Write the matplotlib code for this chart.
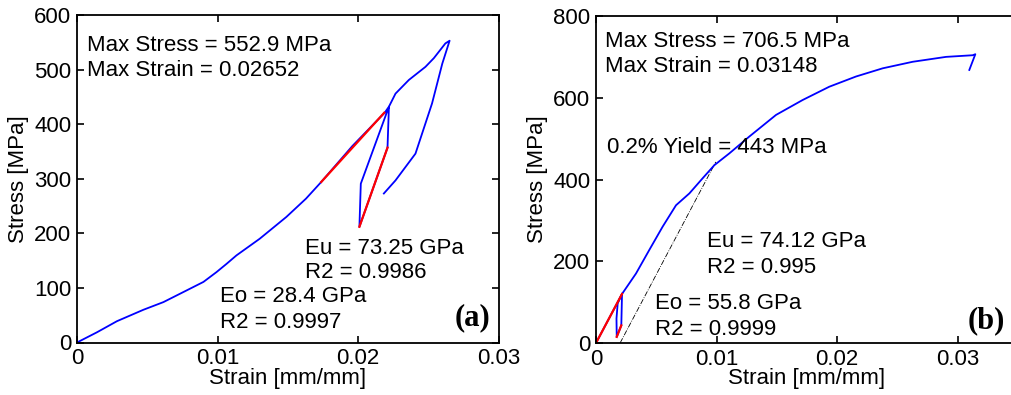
import matplotlib
matplotlib.use("Agg")
import matplotlib.pyplot as plt

plt.rcParams['font.family'] = ['Liberation Sans', 'DejaVu Sans']

# (a) stress-strain with one unload/reload cycle
a_strain = [0, 0.00142, 0.00284, 0.00473, 0.00615, 0.0078, 0.009, 0.00993,
            0.01064, 0.01135, 0.013, 0.0149, 0.0163, 0.01738, 0.0196, 0.0219, 0.0222,
            0.0202, 0.0201, 0.0221, 0.0222,
            0.02267, 0.02362, 0.0248, 0.0254, 0.02622, 0.02652,
            0.026, 0.02527, 0.02409, 0.02267, 0.02184]
a_stress = [0, 18.7, 39, 60, 74, 95.4, 111, 129,
            144, 159.6, 190, 230, 263.6, 294, 360, 421, 432,
            291, 212, 357, 432,
            456, 481, 505, 521, 548, 552.9,
            511, 438, 346, 297, 273]
a_eo_x = [0.01738, 0.02187]
a_eo_y = [294, 421]
a_eu_x = [0.0201, 0.0221]
a_eu_y = [212, 357]

# (b) stress-strain with small unload/reload cycle near origin
b_strain = [0, 0.00216, 0.0021, 0.00172, 0.0017, 0.0018, 0.00216,
            0.00332, 0.00443, 0.00553, 0.00664, 0.00775, 0.00885, 0.00982,
            0.01107, 0.01272, 0.01494, 0.01715, 0.01936, 0.02158, 0.02379,
            0.02628, 0.02905, 0.03126, 0.03148, 0.03098]
b_stress = [0, 120, 43, 15, 60, 97, 120,
            170, 228, 284.6, 337, 366, 403, 435,
            464, 505, 558, 594.5, 627, 652, 672,
            688, 700, 704, 706.5, 668]
b_eo_x = [0, 0.00216]
b_eo_y = [0, 120]
b_eu_x = [0.00172, 0.0021]
b_eu_y = [15, 43]
b_offset_x = [0.002, 0.00994]
b_offset_y = [0, 443]

W, H = 1011, 395
fig = plt.figure(figsize=(W / 100, H / 100), dpi=100)

ax1 = fig.add_axes([77 / W, (H - 342.5) / H, 421.5 / W, 327.5 / H])
ax2 = fig.add_axes([596 / W, (H - 343) / H, 421.75 / W, 327 / H])

fs = 16


def style(ax):
    ax.tick_params(direction='in', length=5, width=1.2, top=True, right=True,
                   labelsize=fs, pad=4)
    for s in ax.spines.values():
        s.set_linewidth(1.3)
    ax.set_xlabel('Strain [mm/mm]', fontsize=fs, labelpad=-1)
    ax.set_ylabel('Stress [MPa]', fontsize=fs, labelpad=4)


# panel (a)
ax1.plot(a_strain, a_stress, color='blue', lw=1.3)
ax1.plot(a_eo_x, a_eo_y, color='red', lw=1.6)
ax1.plot(a_eu_x, a_eu_y, color='red', lw=1.6)
ax1.set_xlim(0, 0.03)
ax1.set_ylim(0, 600)
ax1.set_xticks([0, 0.01, 0.02, 0.03])
ax1.set_xticklabels(['0', '0.01', '0.02', '0.03'])
ax1.set_yticks(range(0, 601, 100))
style(ax1)
ax1.text(0.00073, 534.5, 'Max Stress = 552.9 MPa', fontsize=fs, va='baseline')
ax1.text(0.00073, 488, 'Max Strain = 0.02652', fontsize=fs, va='baseline')
ax1.text(0.01624, 163, 'Eu = 73.25 GPa', fontsize=fs, va='baseline')
ax1.text(0.01624, 117.4, 'R2 = 0.9986', fontsize=fs, va='baseline')
ax1.text(0.01019, 74, 'Eo = 28.4 GPa', fontsize=fs, va='baseline')
ax1.text(0.01019, 25.7, 'R2 = 0.9997', fontsize=fs, va='baseline')
ax1.text(0.02941, 31, '(a)', fontsize=22, fontweight='bold', ha='right',
         va='baseline', family='Liberation Serif')

# panel (b)
ax2.plot(b_offset_x, b_offset_y, color='black', lw=0.6, ls='-.')
ax2.plot(b_strain, b_stress, color='blue', lw=1.3)
ax2.plot(b_eo_x, b_eo_y, color='red', lw=1.6)
ax2.plot(b_eu_x, b_eu_y, color='red', lw=1.6)
ax2.set_xlim(0, 0.035)
ax2.set_ylim(0, 800)
ax2.set_xticks([0, 0.01, 0.02, 0.03])
ax2.set_xticklabels(['0', '0.01', '0.02', '0.03'])
ax2.set_yticks(range(0, 801, 200))
style(ax2)
ax2.text(0.00075, 725, 'Max Stress = 706.5 MPa', fontsize=fs, va='baseline')
ax2.text(0.00075, 664, 'Max Strain = 0.03148', fontsize=fs, va='baseline')
ax2.text(0.00094, 464, '0.2% Yield = 443 MPa', fontsize=fs, va='baseline')
ax2.text(0.00919, 234, 'Eu = 74.12 GPa', fontsize=fs, va='baseline')
ax2.text(0.00919, 170.5, 'R2 = 0.995', fontsize=fs, va='baseline')
ax2.text(0.0049, 82.4, 'Eo = 55.8 GPa', fontsize=fs, va='baseline')
ax2.text(0.0049, 19.6, 'R2 = 0.9999', fontsize=fs, va='baseline')
ax2.text(0.03394, 36.7, '(b)', fontsize=22, fontweight='bold', ha='right',
         va='baseline', family='Liberation Serif')

fig.savefig('out.png', dpi=100)
